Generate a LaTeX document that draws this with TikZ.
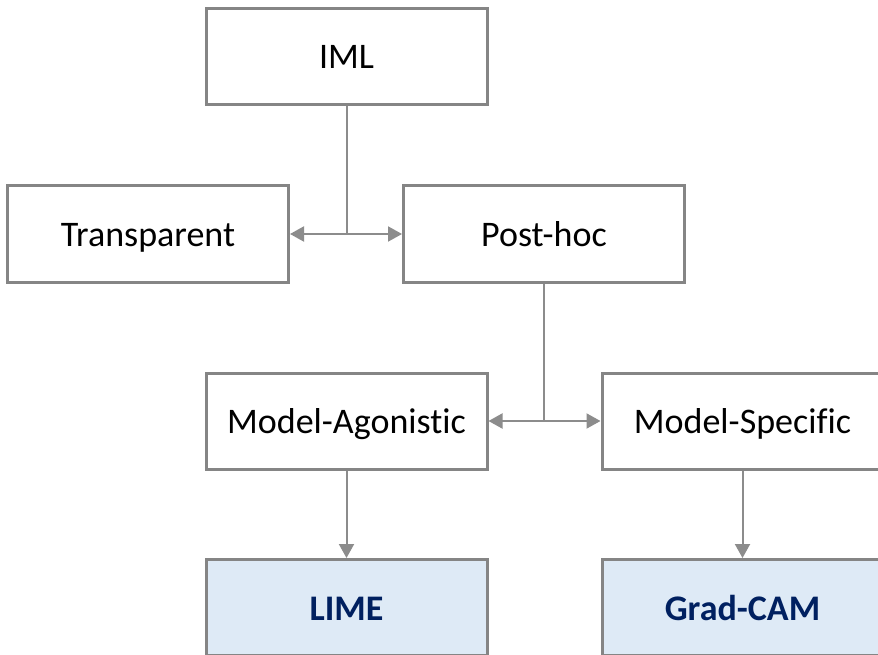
\documentclass[tikz,border=0pt]{standalone}
\usepackage{fontspec}
\setmainfont[Ligatures=NoCommon]{Carlito}
\usetikzlibrary{arrows.meta}
\definecolor{boxline}{HTML}{858585}
\definecolor{linkline}{HTML}{8C8C8C}
\definecolor{leaffill}{HTML}{DEEAF6}
\definecolor{leaftext}{HTML}{002060}
\tikzset{
  box/.style={draw=boxline, line width=3pt, fill=white,
    minimum width=281pt, minimum height=96pt, inner sep=0pt,
    text height=25pt, text depth=0pt,
    font=\fontsize{36}{43}\selectfont},
  leaf/.style={box, fill=leaffill, text=leaftext,
    font=\fontsize{36}{43}\selectfont\bfseries},
  link/.style={draw=linkline, line width=2pt,
    -{Triangle[length=14pt,width=15pt]}},
  trunk/.style={draw=linkline, line width=2pt}
}
\begin{document}
\begin{tikzpicture}[x=1pt,y=-1pt]
  \clip (0,0) rectangle (878,655);
  \fill[white] (0,0) rectangle (878,655);

  % boxes
  \node[box] (iml)   at (346.5,56.5) {IML};
  \node[box] (trans) at (148,234)    {Transparent};
  \node[box] (post)  at (544,234)    {Post-hoc};
  \node[box] (agn)   at (346.5,421)  {Model-Agonistic};
  \node[box] (spec)  at (742.5,421)  {Model-Specific};
  \node[leaf] (lime) at (346.5,607.5) {LIME};
  \node[leaf] (grad) at (742.5,607.5) {Grad-CAM};

  % junctions
  \coordinate (j1) at (iml.south |- trans.east);
  \coordinate (j2) at (post.south |- agn.east);

  % connectors
  \draw[trunk] (iml.south) -- (j1);
  \draw[link] (j1) -- (trans.east);
  \draw[link] (j1) -- (post.west);
  \draw[trunk] (post.south) -- (j2);
  \draw[link] (j2) -- (agn.east);
  \draw[link] (j2) -- (spec.west);
  \draw[link] (agn.south) -- (lime.north);
  \draw[link] (spec.south) -- (grad.north);
\end{tikzpicture}
\end{document}
